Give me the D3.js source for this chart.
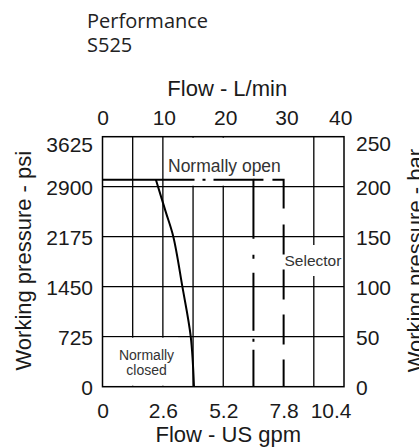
<!DOCTYPE html>
<html><head><meta charset="utf-8">
<script src="https://cdn.jsdelivr.net/npm/d3@7"></script>
<style>
html,body{margin:0;padding:0;background:#fff;}
svg{display:block;}
text{font-family:"Liberation Sans",Arial,sans-serif;fill:#1a1a1a;}
</style></head><body>
<svg id="chart" width="419" height="448"></svg>
<script>
// ---- data ----
const titleLines = ["Performance", "S525"];
const psiTicks = [0, 725, 1450, 2175, 2900, 3625];
const barTicks = [0, 50, 100, 150, 200, 250];
const gpmTicks = [0, 2.6, 5.2, 7.8, 10.4];
const lpmTicks = [0, 10, 20, 30, 40];
const gridGpm = [1.3, 2.6, 3.9, 5.2, 9.1];
const gridPsi = [725, 1450, 2175, 2900];
const closedGpm = [2.3, 2.72, 3.05, 3.44, 3.8, 3.94];
const closedPsi = [3000, 2538, 2175, 1450, 725, 0];
const openGpm = [0, 6.5, 6.5];
const openPsi = [3000, 3000, 0];
const selectorGpm = [6.5, 7.8, 7.8];
const selectorPsi = [3000, 3000, 0];
const LPM_PER_GPM = 3.78541;

// ---- scales ----
const svg = d3.select("#chart");
const x = d3.scaleLinear().domain([0, 10.4]).range([102.5, 344]);
const xL = d3.scaleLinear().domain([0, 10.4 * LPM_PER_GPM]).range([102.5, 344]);
const y = d3.scaleLinear().domain([0, 3625]).range([386.7, 136.7]);
const yB = d3.scaleLinear().domain([0, 250]).range([386.7, 136.7]);

// ---- title ----
svg.append("g").selectAll("text").data(titleLines).join("text")
  .attr("x", 87).attr("y", (d, i) => 28 + i * 24)
  .style("font-family", "'Open Sans',sans-serif").style("font-size", "20px")
  .style("fill", "#222")
  .text(d => d);

// ---- grid ----
const grid = svg.append("g").attr("stroke", "#000").attr("stroke-width", 1.3);
grid.selectAll("line.v").data(gridGpm).join("line").attr("class", "v")
  .attr("x1", d => x(d)).attr("x2", d => x(d)).attr("y1", y(3625)).attr("y2", y(0));
grid.selectAll("line.h").data(gridPsi).join("line").attr("class", "h")
  .attr("y1", d => y(d)).attr("y2", d => y(d)).attr("x1", x(0)).attr("x2", x(10.4));

// ---- labels with white knock-out boxes ----
const lab = svg.append("g");
const tOpen = lab.append("text").attr("x", 168).attr("y", 171.7)
  .style("font-size", "17.5px").style("fill", "#333").text("Normally open");
const tSel = lab.append("text").attr("x", 284.5).attr("y", 266)
  .style("font-size", "15.5px").style("fill", "#333").text("Selector");
const tClosed = lab.append("text").attr("text-anchor", "middle")
  .style("font-size", "14px").style("fill", "#333");
tClosed.selectAll("tspan").data(["Normally", "closed"]).join("tspan")
  .attr("x", 146.5).attr("y", (d, i) => 360 + i * 14.5).text(d => d);

const bo = tOpen.node().getBBox();
lab.insert("rect", "text").attr("fill", "#fff")
  .attr("x", bo.x - 3).attr("width", bo.width + 6)
  .attr("y", y(3625) + 1).attr("height", y(2900) - y(3625) - 2);
const bs = tSel.node().getBBox();
lab.insert("rect", "text").attr("fill", "#fff")
  .attr("x", bs.x + 1).attr("width", bs.width)
  .attr("y", bs.y - 7).attr("height", bs.height + 14);
const bc = tClosed.node().getBBox();
lab.insert("rect", "text").attr("fill", "#fff")
  .attr("x", x(0) + 1).attr("width", bc.x + bc.width + 3 - x(0))
  .attr("y", y(725) + 1).attr("height", y(0) - y(725) - 2);

// ---- curves ----
const curveLine = d3.line().x(d => x(d[0])).y(d => y(d[1])).curve(d3.curveCatmullRom);
svg.append("path").datum(d3.zip(closedGpm, closedPsi))
  .attr("d", curveLine)
  .attr("fill", "none").attr("stroke", "#000").attr("stroke-width", 2);
const lineL = d3.line().x(d => x(d[0])).y(d => y(d[1]));
svg.append("path").datum(d3.zip(openGpm, openPsi))
  .attr("d", lineL)
  .attr("fill", "none").attr("stroke", "#000").attr("stroke-width", 2)
  .attr("stroke-dasharray", "92 8 3 8 99 16 4 14 58 8 3 8 60");
svg.append("path").datum(d3.zip(selectorGpm, selectorPsi))
  .attr("d", lineL)
  .attr("fill", "none").attr("stroke", "#000").attr("stroke-width", 2)
  .attr("stroke-dasharray", "10 9 40 16 30 15 30 15 30 15 30 15 30 15");

// ---- frame ----
svg.append("rect").attr("x", x(0)).attr("y", y(3625))
  .attr("width", x(10.4) - x(0)).attr("height", y(0) - y(3625))
  .attr("fill", "none").attr("stroke", "#000").attr("stroke-width", 1.5);

// ---- axes ----
function styleAxis(g) {
  g.select(".domain").remove();
  g.selectAll(".tick line").remove();
  g.selectAll("text").style("font-family", "'Liberation Sans',Arial,sans-serif")
    .style("font-size", "21px").attr("fill", "#1a1a1a");
}
const gB = svg.append("g").attr("transform", `translate(0,${y(0) + 10})`)
  .call(d3.axisBottom(x).tickValues(gpmTicks).tickSize(0).tickPadding(0)
    .tickFormat(d3.format("")))
  .call(styleAxis);
gB.selectAll("text").attr("dy", null).attr("y", 21);
gB.selectAll(".tick").filter(d => d === 10.4).select("text")
  .attr("text-anchor", "end").attr("x", 7);

const gT = svg.append("g").attr("transform", `translate(0,${y(3625) - 12})`)
  .call(d3.axisTop(xL).tickValues(lpmTicks).tickSize(0).tickPadding(0)
    .tickFormat(d3.format("d")))
  .call(styleAxis);
gT.selectAll("text").attr("dy", null).attr("y", 0);
gT.selectAll(".tick").filter(d => d === 40).select("text")
  .attr("text-anchor", "end").attr("x", 4);

const gL = svg.append("g").attr("transform", `translate(${x(0) - 9.5},0)`)
  .call(d3.axisLeft(y).tickValues(psiTicks).tickSize(0).tickPadding(0)
    .tickFormat(d3.format("d")))
  .call(styleAxis);
gL.selectAll("text").attr("x", 0).attr("dy", "0.36em");
gL.selectAll(".tick").filter(d => d === 3625).select("text").attr("y", 7);

const gR = svg.append("g").attr("transform", `translate(${x(10.4) + 12},0)`)
  .call(d3.axisRight(yB).tickValues(barTicks).tickSize(0).tickPadding(0)
    .tickFormat(d3.format("d")))
  .call(styleAxis);
gR.selectAll("text").attr("x", 0).attr("dy", "0.36em");
gR.selectAll(".tick").filter(d => d === 250).select("text").attr("y", 6);

// ---- axis titles ----
const midX = (x(0) + x(10.4)) / 2 + 4;
const midY = (y(0) + y(3625)) / 2 - 1;
svg.append("text").attr("x", midX).attr("y", 96).attr("text-anchor", "middle")
  .style("font-size", "22px").text("Flow - L/min");
svg.append("text").attr("x", midX + 1).attr("y", 441.5).attr("text-anchor", "middle")
  .style("font-size", "22px").text("Flow - US gpm");
svg.append("text").attr("transform", `translate(31,${midY}) rotate(-90)`)
  .attr("text-anchor", "middle").style("font-size", "22px").text("Working pressure - psi");
svg.append("text").attr("transform", `translate(423,${midY}) rotate(-90)`)
  .attr("text-anchor", "middle").style("font-size", "22px").text("Working pressure - bar");
</script>
</body></html>
